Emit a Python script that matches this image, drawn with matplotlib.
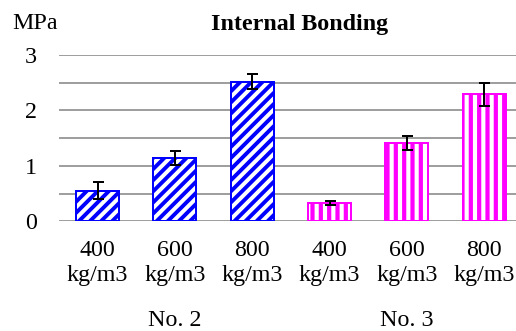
import matplotlib.pyplot as plt
import matplotlib as mpl
import numpy as np

# Werte.
categories = ["400\nkg/m3", "600\nkg/m3", "800\nkg/m3", "400\nkg/m3", "600\nkg/m3", "800\nkg/m3"]
no2_values = [0.55, 1.14, 2.52]
no2_errors = [0.15, 0.13, 0.14]
no3_values = [0.33, 1.41, 2.29]
no3_errors = [0.04, 0.13, 0.21]
group_labels = ["No. 2", "No. 3"]
yticks = [0, 1, 2, 3]

DPI = 100
PX = 72 / DPI  # Punkte pro Pixel

plt.rcParams["font.family"] = ["Liberation Serif", "DejaVu Serif"]
plt.rcParams["font.size"] = 24 * PX

fig = plt.figure(figsize=(516 / DPI, 331 / DPI), dpi=DPI)
ax = fig.add_axes([59 / 516, 109.7 / 331, 457 / 516, 166.3 / 331])

x = np.arange(len(categories))
width = 0.556


def draw_bars(xs, values, errors, color, hatch, hatch_lw):
    with mpl.rc_context({"hatch.linewidth": hatch_lw}):
        bars = ax.bar(xs, values, width, color="white", edgecolor=color,
                      linewidth=2 * PX, hatch=hatch, zorder=2)
    for b in bars:
        if hasattr(b, "set_hatch_linewidth"):
            b.set_hatch_linewidth(hatch_lw)
    ax.errorbar(xs, values, yerr=errors, fmt="none", ecolor="black",
                elinewidth=2 * PX, capsize=5.5 * PX, capthick=2 * PX, zorder=3)


draw_bars(x[:3], no2_values, no2_errors, "#0000FF", "///", 3.9 * PX)
draw_bars(x[3:], no3_values, no3_errors, "#FF00FF", "||", 4.2 * PX)

# Achsen und Gitter
ax.set_xlim(-0.5, -0.5 + 457 / 77.3)
ax.set_ylim(0, 3)
ax.set_yticks(yticks)
ax.set_yticks(np.arange(0, 3.01, 0.5), minor=True)
ax.grid(True, axis="y", which="both", color="#808080", linewidth=1.5 * PX)
ax.set_axisbelow(True)
ax.tick_params(axis="y", which="both", length=0, pad=22 * PX)
ax.tick_params(axis="x", length=0, pad=19 * PX)
ax.set_xticks(x)
ax.set_xticklabels(categories, linespacing=1.2)
for s in ax.spines.values():
    s.set_visible(False)

# Gruppenbeschriftungen unter den Kategorien
trans = mpl.transforms.blended_transform_factory(ax.transData, fig.transFigure)
ax.text(1, 4.5 / 331, group_labels[0], transform=trans, ha="center", va="baseline")
ax.text(4, 4.5 / 331, group_labels[1], transform=trans, ha="center", va="baseline")

fig.text(300 / 516, 301 / 331, "Internal Bonding", ha="center", va="baseline",
         fontweight="bold")
fig.text(12 / 516, 302 / 331, "MPa", ha="left", va="baseline")

fig.savefig("out.png", dpi=DPI)
